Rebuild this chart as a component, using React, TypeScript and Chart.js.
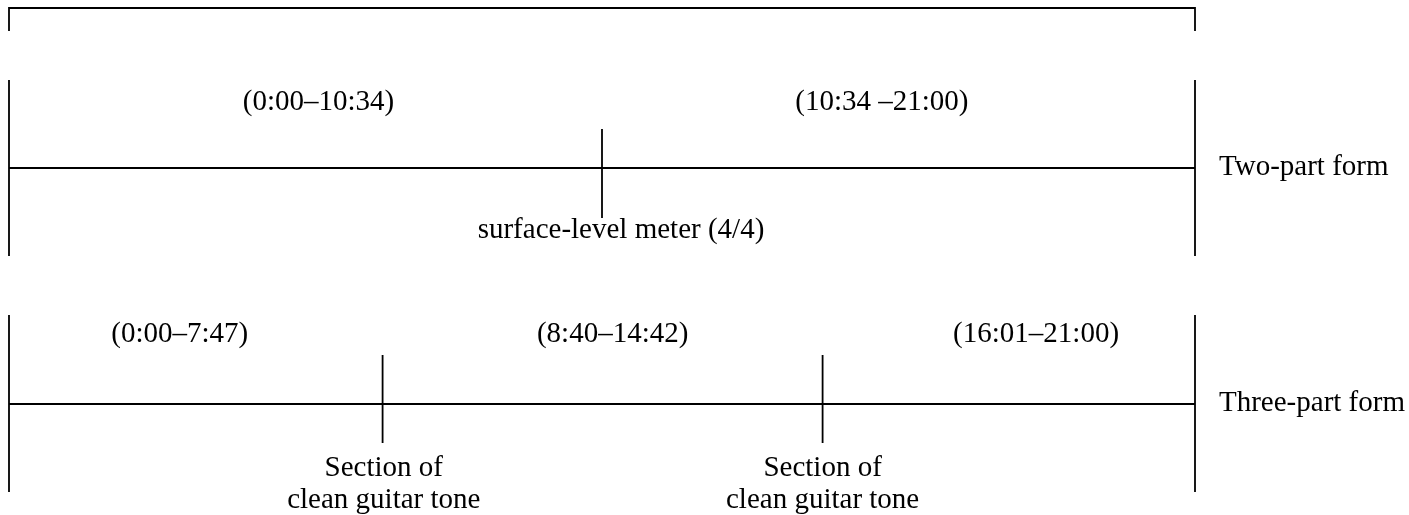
import React, { useEffect, useRef } from "react";
import { Chart, registerables } from "chart.js";

Chart.register(...registerables);

// ---- Data (positions along the piece, as % of the full 0:00–21:00 span) ----
const FORM_NAMES = ["Two-part form", "Three-part form"];

const TWO_SECTION_LABELS = ["(0:00–10:34)", "(10:34 –21:00)"];
const TWO_SECTION_LABEL_AT = [26.1, 73.6];
const TWO_DIVIDERS = [50];
const TWO_DIVIDER_NOTES = ["surface-level meter (4/4)"];
const TWO_DIVIDER_NOTE_AT = [51.6];

const THREE_SECTION_LABELS = ["(0:00–7:47)", "(8:40–14:42)", "(16:01–21:00)"];
const THREE_SECTION_LABEL_AT = [14.4, 50.9, 86.6];
const THREE_DIVIDERS = [31.5, 68.6];
const THREE_DIVIDER_NOTES = [
  ["Section of", "clean guitar tone"],
  ["Section of", "clean guitar tone"],
];
const THREE_DIVIDER_NOTE_AT = [31.6, 68.6];

const SPAN_START = 0;
const SPAN_END = 100;

// ---- Layout (vertical placement, in canvas rows) ----
const LAYOUT = {
  bracket: { y: 8, bottom: 31 },
  two: { line: 168, barTop: 80, barBottom: 256, divTop: 129, divBottom: 218, labelBase: 110, noteBase: [238] },
  three: { line: 404, barTop: 315, barBottom: 492, divTop: 355, divBottom: 443, labelBase: 342, noteBase: [476, 508] },
};

const INK = "#000000";
const FONT = "29px 'Liberation Serif', 'Times New Roman', serif";

function seg(points: { x: number; y: number }[]) {
  return {
    type: "line" as const,
    data: points,
    borderColor: INK,
    borderWidth: 1.8,
    pointRadius: 0,
    showLine: true,
    fill: false,
    tension: 0,
    clip: false as any,
  };
}

function rowDatasets(row: any, dividers: number[]) {
  const ds: any[] = [];
  ds.push(seg([{ x: SPAN_START, y: row.line }, { x: SPAN_END, y: row.line }]));
  ds.push(seg([{ x: SPAN_START, y: row.barTop }, { x: SPAN_START, y: row.barBottom }]));
  ds.push(seg([{ x: SPAN_END, y: row.barTop }, { x: SPAN_END, y: row.barBottom }]));
  dividers.forEach((d) => ds.push(seg([{ x: d, y: row.divTop }, { x: d, y: row.divBottom }])));
  return ds;
}

const textPlugin = {
  id: "diagramText",
  afterDatasetsDraw(chart: any) {
    const { ctx, scales } = chart;
    const xs = scales.x;
    const ys = scales.y;
    ctx.save();
    ctx.fillStyle = INK;
    ctx.font = FONT;
    ctx.textBaseline = "alphabetic";

    const drawRow = (row: any, labels: string[], labelAt: number[], notes: any[], noteAt: number[], name: string) => {
      ctx.textAlign = "center";
      labels.forEach((t, i) => ctx.fillText(t, xs.getPixelForValue(labelAt[i]), ys.getPixelForValue(row.labelBase)));
      notes.forEach((n, i) => {
        const lines = Array.isArray(n) ? n : [n];
        lines.forEach((ln: string, j: number) =>
          ctx.fillText(ln, xs.getPixelForValue(noteAt[i]), ys.getPixelForValue(row.noteBase[j]))
        );
      });
      ctx.textAlign = "left";
      ctx.fillText(name, xs.getPixelForValue(SPAN_END) + 24, ys.getPixelForValue(row.line) + 7);
    };

    drawRow(LAYOUT.two, TWO_SECTION_LABELS, TWO_SECTION_LABEL_AT, TWO_DIVIDER_NOTES, TWO_DIVIDER_NOTE_AT, FORM_NAMES[0]);
    drawRow(LAYOUT.three, THREE_SECTION_LABELS, THREE_SECTION_LABEL_AT, THREE_DIVIDER_NOTES, THREE_DIVIDER_NOTE_AT, FORM_NAMES[1]);
    ctx.restore();
  },
};

export default function App() {
  const ref = useRef<HTMLCanvasElement | null>(null);

  useEffect(() => {
    if (!ref.current) return;
    const b = LAYOUT.bracket;
    const datasets: any[] = [
      seg([
        { x: SPAN_START, y: b.bottom },
        { x: SPAN_START, y: b.y },
        { x: SPAN_END, y: b.y },
        { x: SPAN_END, y: b.bottom },
      ]),
      ...rowDatasets(LAYOUT.two, TWO_DIVIDERS),
      ...rowDatasets(LAYOUT.three, THREE_DIVIDERS),
    ];
    const chart = new Chart(ref.current, {
      type: "line",
      data: { datasets },
      options: {
        responsive: false,
        maintainAspectRatio: false,
        animation: false,
        layout: { padding: { left: 9, right: 214, top: 0, bottom: 0 } },
        plugins: { legend: { display: false }, tooltip: { enabled: false } },
        events: [],
        scales: {
          x: { type: "linear", min: SPAN_START, max: SPAN_END, display: false },
          y: { type: "linear", min: 0, max: 515, reverse: true, display: false },
        },
      },
      plugins: [textPlugin],
    });
    return () => chart.destroy();
  }, []);

  return (
    <div style={{ position: "fixed", left: 0, top: 0, width: 1409, height: 515, background: "#fff" }}>
      <canvas ref={ref} width={1409} height={515} style={{ display: "block" }} />
    </div>
  );
}
